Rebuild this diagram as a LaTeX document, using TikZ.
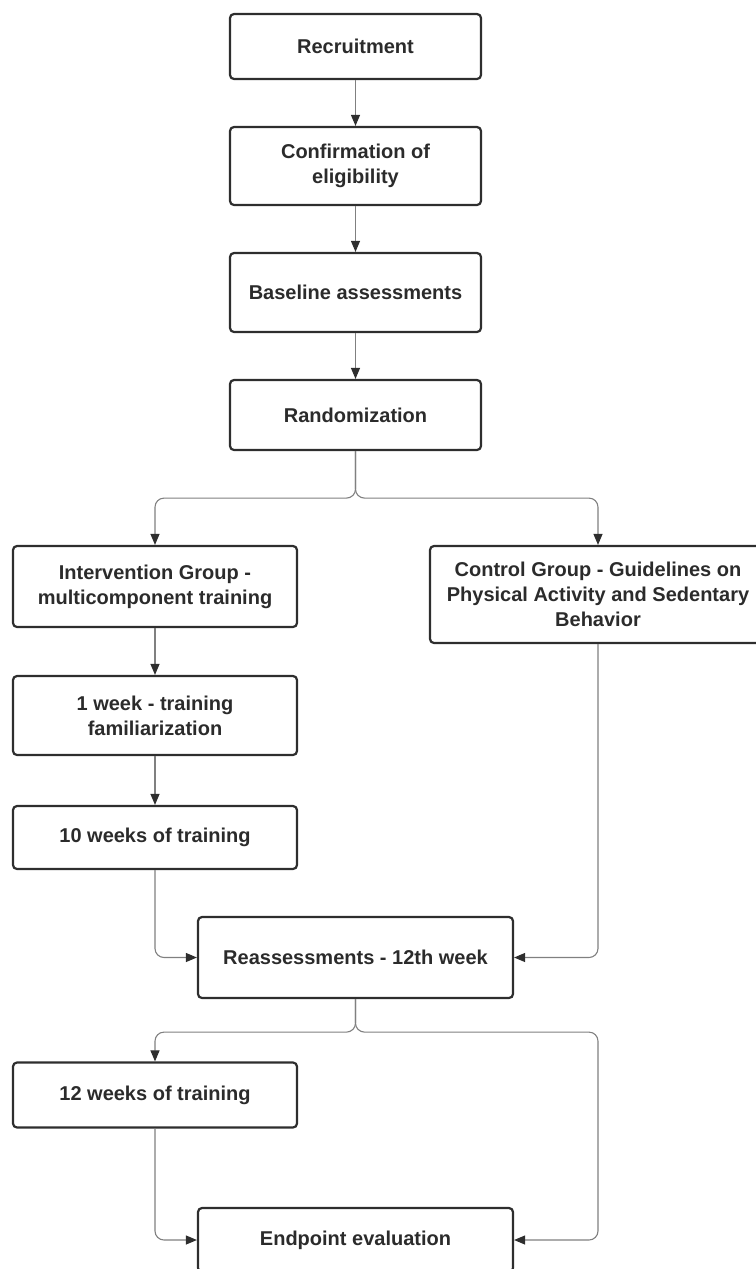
\documentclass[tikz,border=0pt]{standalone}
\usepackage{fontspec}
\setmainfont{Liberation Sans}
\usetikzlibrary{arrows.meta}
\definecolor{boxline}{HTML}{2E2E2E}
\definecolor{txt}{HTML}{2B2B2B}
\definecolor{connline}{HTML}{808080}
\begin{document}
\begin{tikzpicture}
    [
        x=1pt, y=-1pt,
        box/.style={draw=boxline, line width=2.2pt, rounded corners=4pt,
            text=txt, font=\fontsize{20}{25}\selectfont\bfseries,
            align=center, inner sep=0pt, minimum width=251pt,},
        wide/.style={minimum width=284pt,},
        conn/.style={draw=connline, line width=1.1pt, rounded corners=9pt,
            -{Triangle[length=11pt, width=9pt, color=boxline]},},
    ]
    \useasboundingbox (0,0) rectangle (755,1269);

    % main column
    \node (recr) at (355.5,46.5)  [box, minimum height=65pt] {Recruitment};
    \node (conf) at (355.5,166)   [box, minimum height=78pt] {Confirmation of\\eligibility};
    \node (base) at (355.5,292.5) [box, minimum height=79pt] {Baseline assessments};
    \node (rand) at (355.5,415)   [box, minimum height=70pt] {Randomization};

    % groups
    \node (interv)  at (155,586.5)  [box, wide, minimum height=81pt] {Intervention Group -\\multicomponent training};
    \node (ctrl)    at (598,594.5)  [box, minimum width=336pt, minimum height=97pt] {Control Group - Guidelines on\\Physical Activity and Sedentary\\Behavior};
    \node (week1)   at (155,715.5)  [box, wide, minimum height=79pt] {1 week - training\\familiarization};
    \node (weeks10) at (155,837.5)  [box, wide, minimum height=63pt] {10 weeks of training};
    \node (reass)   at (355.5,957.5) [box, minimum width=315pt, minimum height=81pt] {Reassessments - 12th week};
    \node (weeks12) at (155,1095)   [box, wide, minimum height=65pt] {12 weeks of training};
    \node (endp)    at (355.5,1240) [box, minimum width=315pt, minimum height=64pt] {Endpoint evaluation};

    \draw [conn] (recr) -- (conf);
    \draw [conn] (conf) -- (base);
    \draw [conn] (base) -- (rand);
    \draw [conn] (rand.south) -- ++(0,47) -| (interv.north);
    \draw [conn] (rand.south) -- ++(0,47) -| (ctrl.north);
    \draw [conn] (interv) -- (week1);
    \draw [conn] (week1) -- (weeks10);
    \draw [conn] (weeks10.south) |- (reass.west);
    \draw [conn] (ctrl.south) |- (reass.east);
    \draw [conn] (reass.south) -- ++(0,33) -| (weeks12.north);
    \draw [conn] (reass.south) -- ++(0,33) -| (ctrl.south |- endp.east) -- (endp.east);
    \draw [conn] (weeks12.south) |- (endp.west);

\end{tikzpicture}
\end{document}
